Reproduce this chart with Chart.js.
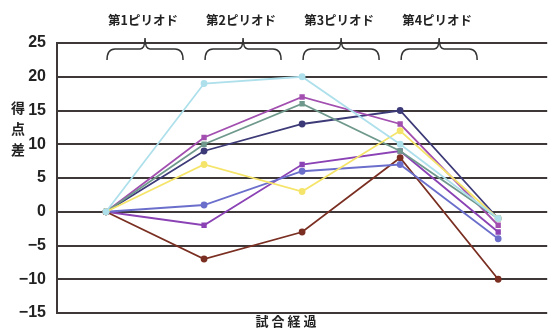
<!DOCTYPE html>
<html lang="ja">
<head>
<meta charset="UTF-8">
<title>得点差の推移</title>
<script src="https://cdn.jsdelivr.net/npm/chart.js@4.4.9/dist/chart.umd.min.js"></script>
<style>
  html, body { margin: 0; padding: 0; background: #fff; }
  #wrap { width: 553px; height: 329px; }
</style>
</head>
<body>
<div id="wrap"><canvas id="myChartCanvas" width="553" height="329"></canvas></div>
<script>
// data
const categories = ['0', '1', '2', '3', '4'];
const periodLabels = ['第1ピリオド', '第2ピリオド', '第3ピリオド', '第4ピリオド'];
const yTicks = [-15, -10, -5, 0, 5, 10, 15, 20, 25];

const cyanSeries    = [0, 19, 20, 10, -1];
const magentaSeries = [0, 11, 17, 13, -2];
const greenSeries   = [0, 10, 16, 9, -1];
const navySeries    = [0, 9, 13, 15, -1];
const yellowSeries  = [0, 7, 3, 12, -1];
const blueSeries    = [0, 1, 6, 7, -4];
const purpleSeries  = [0, -2, 7, 9, -3];
const brownSeries   = [0, -7, -3, 8, -10];

const FONT_JP = '"Noto Sans CJK JP", "Liberation Sans", sans-serif';

function serie(data, color, style) {
    return {
        data: data,
        borderColor: color,
        backgroundColor: color,
        borderWidth: 1.8,
        pointRadius: 2.5,
        pointStyle: style || 'circle',
        tension: 0,
        fill: false
    };
}

// top labels, braces, y title and x title
const decoracoes = {
    id: 'decoracoes',
    afterDraw(chart) {
        const ctx = chart.ctx;
        const x = chart.scales.x;
        ctx.save();
        ctx.fillStyle = '#222';
        ctx.strokeStyle = '#333';
        ctx.lineWidth = 1.5;
        for (let i = 0; i < periodLabels.length; i++) {
            const x0 = x.getPixelForValue(i) + 1;
            const x1 = x0 + 76;
            const xm = x0 + 38;
            // brace
            ctx.beginPath();
            ctx.moveTo(x0, 60);
            ctx.quadraticCurveTo(x0, 49, x0 + 8, 49);
            ctx.lineTo(xm - 5, 49);
            ctx.quadraticCurveTo(xm, 49, xm, 38);
            ctx.quadraticCurveTo(xm, 49, xm + 5, 49);
            ctx.lineTo(x1 - 8, 49);
            ctx.quadraticCurveTo(x1, 49, x1, 60);
            ctx.stroke();
            // label
            ctx.font = 'bold 12.5px ' + FONT_JP;
            ctx.textAlign = 'center';
            ctx.textBaseline = 'middle';
            ctx.fillText(periodLabels[i], xm - 2, 20);
        }
        // y title, stacked
        ctx.font = 'bold 14px ' + FONT_JP;
        ctx.textAlign = 'center';
        ctx.fillText('得', 18, 108);
        ctx.fillText('点', 18, 129);
        ctx.fillText('差', 18, 150);
        // x title
        ctx.font = 'bold 13px ' + FONT_JP;
        ctx.fillText('試 合 経 過', 286, 321);
        ctx.restore();
    }
};

const config = {
    type: 'line',
    data: {
        labels: categories,
        datasets: [
            serie(cyanSeries, '#aee0ec'),
            serie(yellowSeries, '#f5e46a'),
            serie(greenSeries, '#6f998c', 'rect'),
            serie(blueSeries, '#6b6fcb'),
            serie(brownSeries, '#7a2f22'),
            serie(purpleSeries, '#8a42b4', 'rect'),
            serie(magentaSeries, '#a24fb0', 'rect'),
            serie(navySeries, '#3d3a78')
        ]
    },
    options: {
        responsive: false,
        animation: false,
        layout: { padding: { top: 43, right: 0, bottom: 16, left: 0 } },
        plugins: {
            legend: { display: false },
            tooltip: { enabled: false }
        },
        scales: {
            x: {
                offset: true,
                ticks: { display: false },
                grid: { display: false, drawTicks: false },
                border: { display: false }
            },
            y: {
                min: -15,
                max: 25,
                afterBuildTicks(axis) {
                    axis.ticks = yTicks.map(v => ({ value: v }));
                },
                afterFit(axis) {
                    axis.width = 57;
                    axis.paddingTop = 0;
                    axis.paddingBottom = 0;
                },
                ticks: {
                    color: '#222',
                    padding: 11,
                    font: { family: '"Liberation Sans", Arial, sans-serif', size: 16, weight: 'bold' },
                    callback: v => String(v).replace('-', '−')
                },
                grid: { color: '#3f3838', lineWidth: 2, drawTicks: false },
                border: { display: true, color: '#3f3838', width: 2 }
            }
        }
    },
    plugins: [decoracoes]
};

let myChart = new Chart(document.getElementById('myChartCanvas'), config);
</script>
</body>
</html>
